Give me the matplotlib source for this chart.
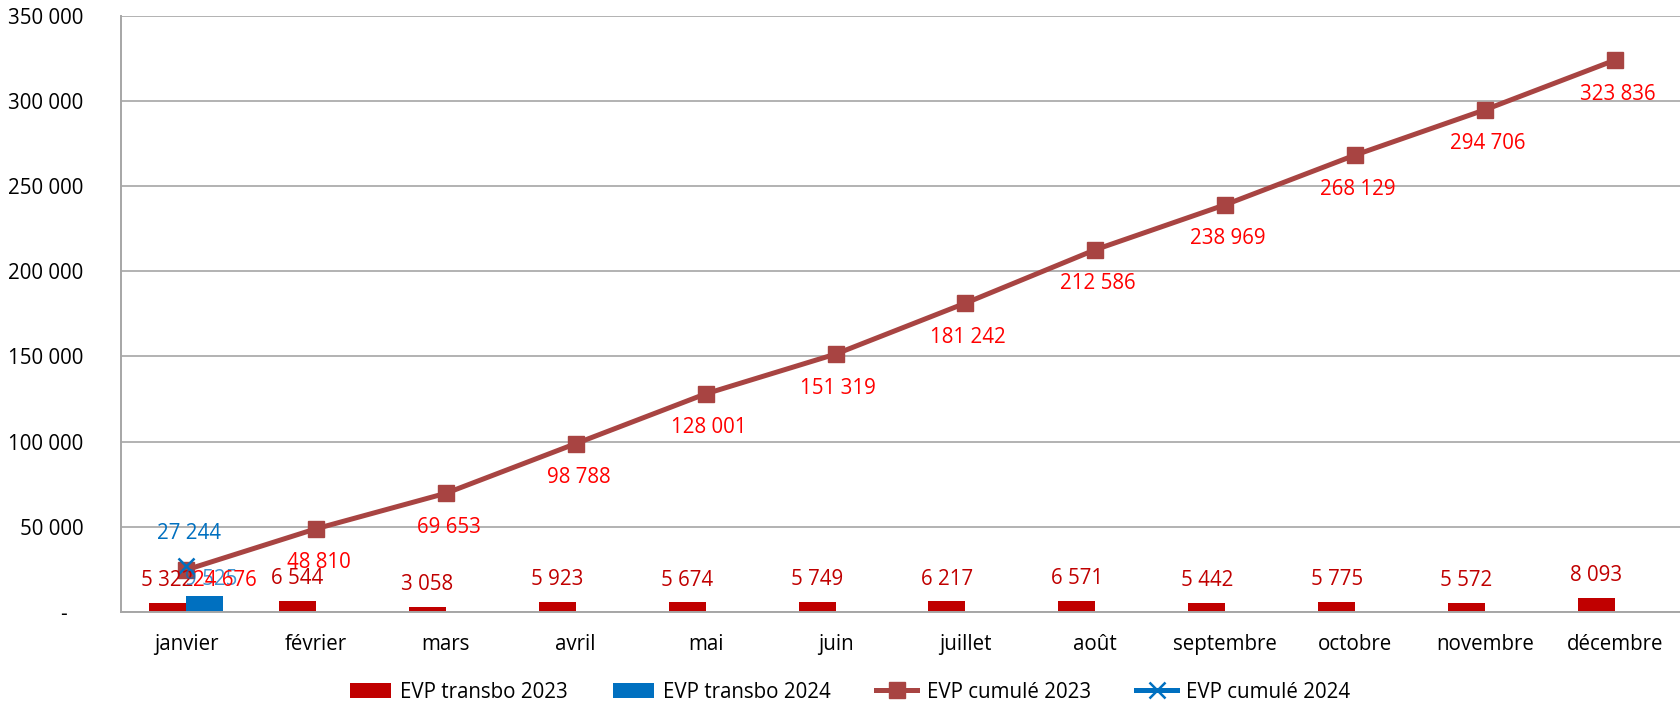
import matplotlib
matplotlib.use("Agg")
import matplotlib.pyplot as plt
from matplotlib.patches import Patch
from matplotlib.lines import Line2D
import numpy as np

plt.rcParams['font.family'] = ['Open Sans', 'DejaVu Sans']

months = ["janvier", "février", "mars", "avril", "mai", "juin", "juillet",
          "août", "septembre", "octobre", "novembre", "décembre"]
transbo_2023 = [5322, 6544, 3058, 5923, 5674, 5749, 6217, 6571, 5442, 5775, 5572, 8093]
transbo_2024 = [9525]
cumul_2023 = [24676, 48810, 69653, 98788, 128001, 151319, 181242, 212586,
              238969, 268129, 294706, 323836]
cumul_2024 = [27244]
y_ticks = [0, 50000, 100000, 150000, 200000, 250000, 300000, 350000]

C_BAR23 = "#C00000"
C_BAR24 = "#0070C0"
C_LINE23 = "#A84442"
C_LAB23 = "#FF0000"
FS = 14.8

def fmt(v):
    return f"{v:,}".replace(",", " ")

fig = plt.figure(figsize=(16.8, 7.06), dpi=100)
ax = fig.add_axes([121/1680, 1 - 612/706, 1 - 121/1680, (612 - 15.5)/706])

x = np.arange(len(months))
w = 0.285
ax.bar(x - w/2, transbo_2023, width=w, color=C_BAR23, zorder=2)
x24 = x[:len(transbo_2024)]
ax.bar(x24 + w/2, transbo_2024, width=w, color=C_BAR24, zorder=2)

ax.plot(x, cumul_2023, color=C_LINE23, lw=3.6, marker='s', markersize=12,
        markerfacecolor=C_LINE23, markeredgecolor=C_LINE23, zorder=3)
xc24 = x[:len(cumul_2024)]
ax.plot(xc24, cumul_2024, color=C_BAR24, lw=3.6, marker='x', markersize=12,
        markeredgewidth=1.8, zorder=4)

# data labels
for xi, v in zip(x, transbo_2023):
    ax.annotate(fmt(v), (xi - w/2, v), xytext=(0, 16), textcoords='offset points',
                ha='center', va='center', color=C_BAR23, fontsize=FS, zorder=5)
for xi, v in zip(x24, transbo_2024):
    ax.annotate(fmt(v), (xi + w/2, v), xytext=(5, 11.5), textcoords='offset points',
                ha='center', va='center', color=C_BAR24, fontsize=FS, zorder=5, alpha=0.75)
for i, (xi, v) in enumerate(zip(x, cumul_2023)):
    off = (28, -7.5) if i == 0 else (2, -24.5)
    ax.annotate(fmt(v), (xi, v), xytext=off, textcoords='offset points',
                ha='center', va='center', color=C_LAB23, fontsize=FS, zorder=6)
for xi, v in zip(xc24, cumul_2024):
    ax.annotate(fmt(v), (xi, v), xytext=(2, 23), textcoords='offset points',
                ha='center', va='center', color=C_BAR24, fontsize=FS, zorder=6)

ax.set_xlim(-0.5, len(months) - 0.5)
ax.set_ylim(0, 350000)
ax.set_yticks(y_ticks)
ax.set_yticklabels(["-   "] + [fmt(t) for t in y_ticks[1:]], fontsize=FS)
ax.set_xticks(x)
ax.set_xticklabels(months, fontsize=FS)
ax.tick_params(axis='y', length=0, pad=27)
ax.tick_params(axis='x', length=0, pad=16)

ax.grid(axis='y', color="#A6A6A6", lw=1.2, zorder=0)
ax.set_axisbelow(True)
for s in ['top', 'right']:
    ax.spines[s].set_visible(False)
for s in ['left', 'bottom']:
    ax.spines[s].set_color("#A6A6A6")
    ax.spines[s].set_linewidth(1.4)

handles = [
    Patch(facecolor=C_BAR23, edgecolor='none', label="EVP transbo 2023"),
    Patch(facecolor=C_BAR24, edgecolor='none', label="EVP transbo 2024"),
    Line2D([], [], color=C_LINE23, lw=3.6, marker='s', markersize=12, label="EVP cumulé 2023"),
    Line2D([], [], color=C_BAR24, lw=3.6, marker='x', markersize=12, markeredgewidth=1.8,
           label="EVP cumulé 2024"),
]
fig.legend(handles=handles, loc='center', bbox_to_anchor=(850/1680, 1 - 692/706),
           ncol=4, frameon=False, fontsize=FS, handlelength=2.0, handleheight=0.7,
           handletextpad=0.45, columnspacing=2.2)

fig.savefig("out.png", dpi=100)
